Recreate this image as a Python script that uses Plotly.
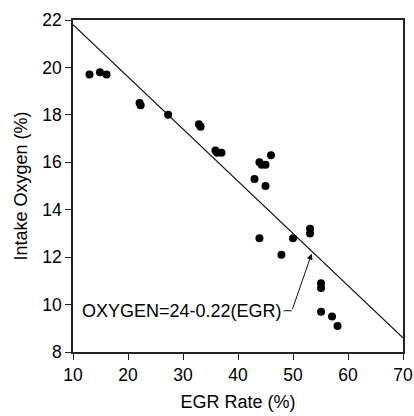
import plotly.graph_objects as go

egr = [13, 14.9, 16.1, 22.1, 22.3, 27.3, 32.9, 33.2, 35.9, 36.2, 37.0, 46.0,
       43.9, 44.3, 45.0, 43.0, 45.0, 43.9, 50.0, 47.9, 53.1, 53.1, 55.1, 55.1,
       55.1, 57.1, 58.1]
oxygen = [19.7, 19.8, 19.7, 18.5, 18.4, 18.0, 17.6, 17.5, 16.5, 16.4, 16.4, 16.3,
          16.0, 15.9, 15.9, 15.3, 15.0, 12.8, 12.8, 12.1, 13.2, 13.0, 10.9, 10.7,
          9.7, 9.5, 9.1]

fit_intercept = 24
fit_slope = -0.22
fit_x = [10, 70]
fit_y = [fit_intercept + fit_slope * v for v in fit_x]

x_ticks = [10, 20, 30, 40, 50, 60, 70]
y_ticks = [8, 10, 12, 14, 16, 18, 20, 22]

font_family = "Liberation Sans, Arial, sans-serif"

fig = go.Figure()
fig.add_trace(go.Scatter(x=fit_x, y=fit_y, mode="lines",
                         line=dict(color="#111", width=1.2), showlegend=False))
fig.add_trace(go.Scatter(x=egr, y=oxygen, mode="markers",
                         marker=dict(color="#000", size=8), showlegend=False))

fig.add_annotation(x=11.3, y=9.74, xref="x", yref="y", text="OXYGEN=24-0.22(EGR)",
                   showarrow=False, xanchor="left", yanchor="middle",
                   font=dict(size=18, color="#000", family=font_family))
fig.add_shape(type="line", x0=48.3, y0=9.74, x1=49.8, y1=9.74, xref="x", yref="y",
              line=dict(color="#111", width=1))
fig.add_annotation(x=53.4, y=12.15, ax=49.8, ay=9.74, axref="x", ayref="y",
                   xref="x", yref="y", text="", showarrow=True,
                   arrowhead=2, arrowsize=1.2, arrowwidth=1, arrowcolor="#111")

axis_common = dict(showline=True, linecolor="#222", linewidth=1.5, mirror=True,
                   ticks="outside", ticklen=6, tickcolor="#222", tickwidth=1.2,
                   showgrid=False, zeroline=False, automargin=False,
                   tickfont=dict(size=17.5, color="#000", family=font_family))

fig.update_xaxes(range=[10, 70], tickvals=x_ticks,
                 title=dict(text="EGR Rate (%)", font=dict(size=18, color="#000", family=font_family), standoff=12),
                 **axis_common)
fig.update_yaxes(range=[8, 22], tickvals=y_ticks,
                 title=dict(text="Intake Oxygen (%)", font=dict(size=18, color="#000", family=font_family), standoff=10),
                 **axis_common)

fig.update_layout(width=414, height=416, margin=dict(l=73, r=11, t=20, b=64),
                  plot_bgcolor="white", paper_bgcolor="white",
                  font=dict(family=font_family))

fig.write_html("out.html")
